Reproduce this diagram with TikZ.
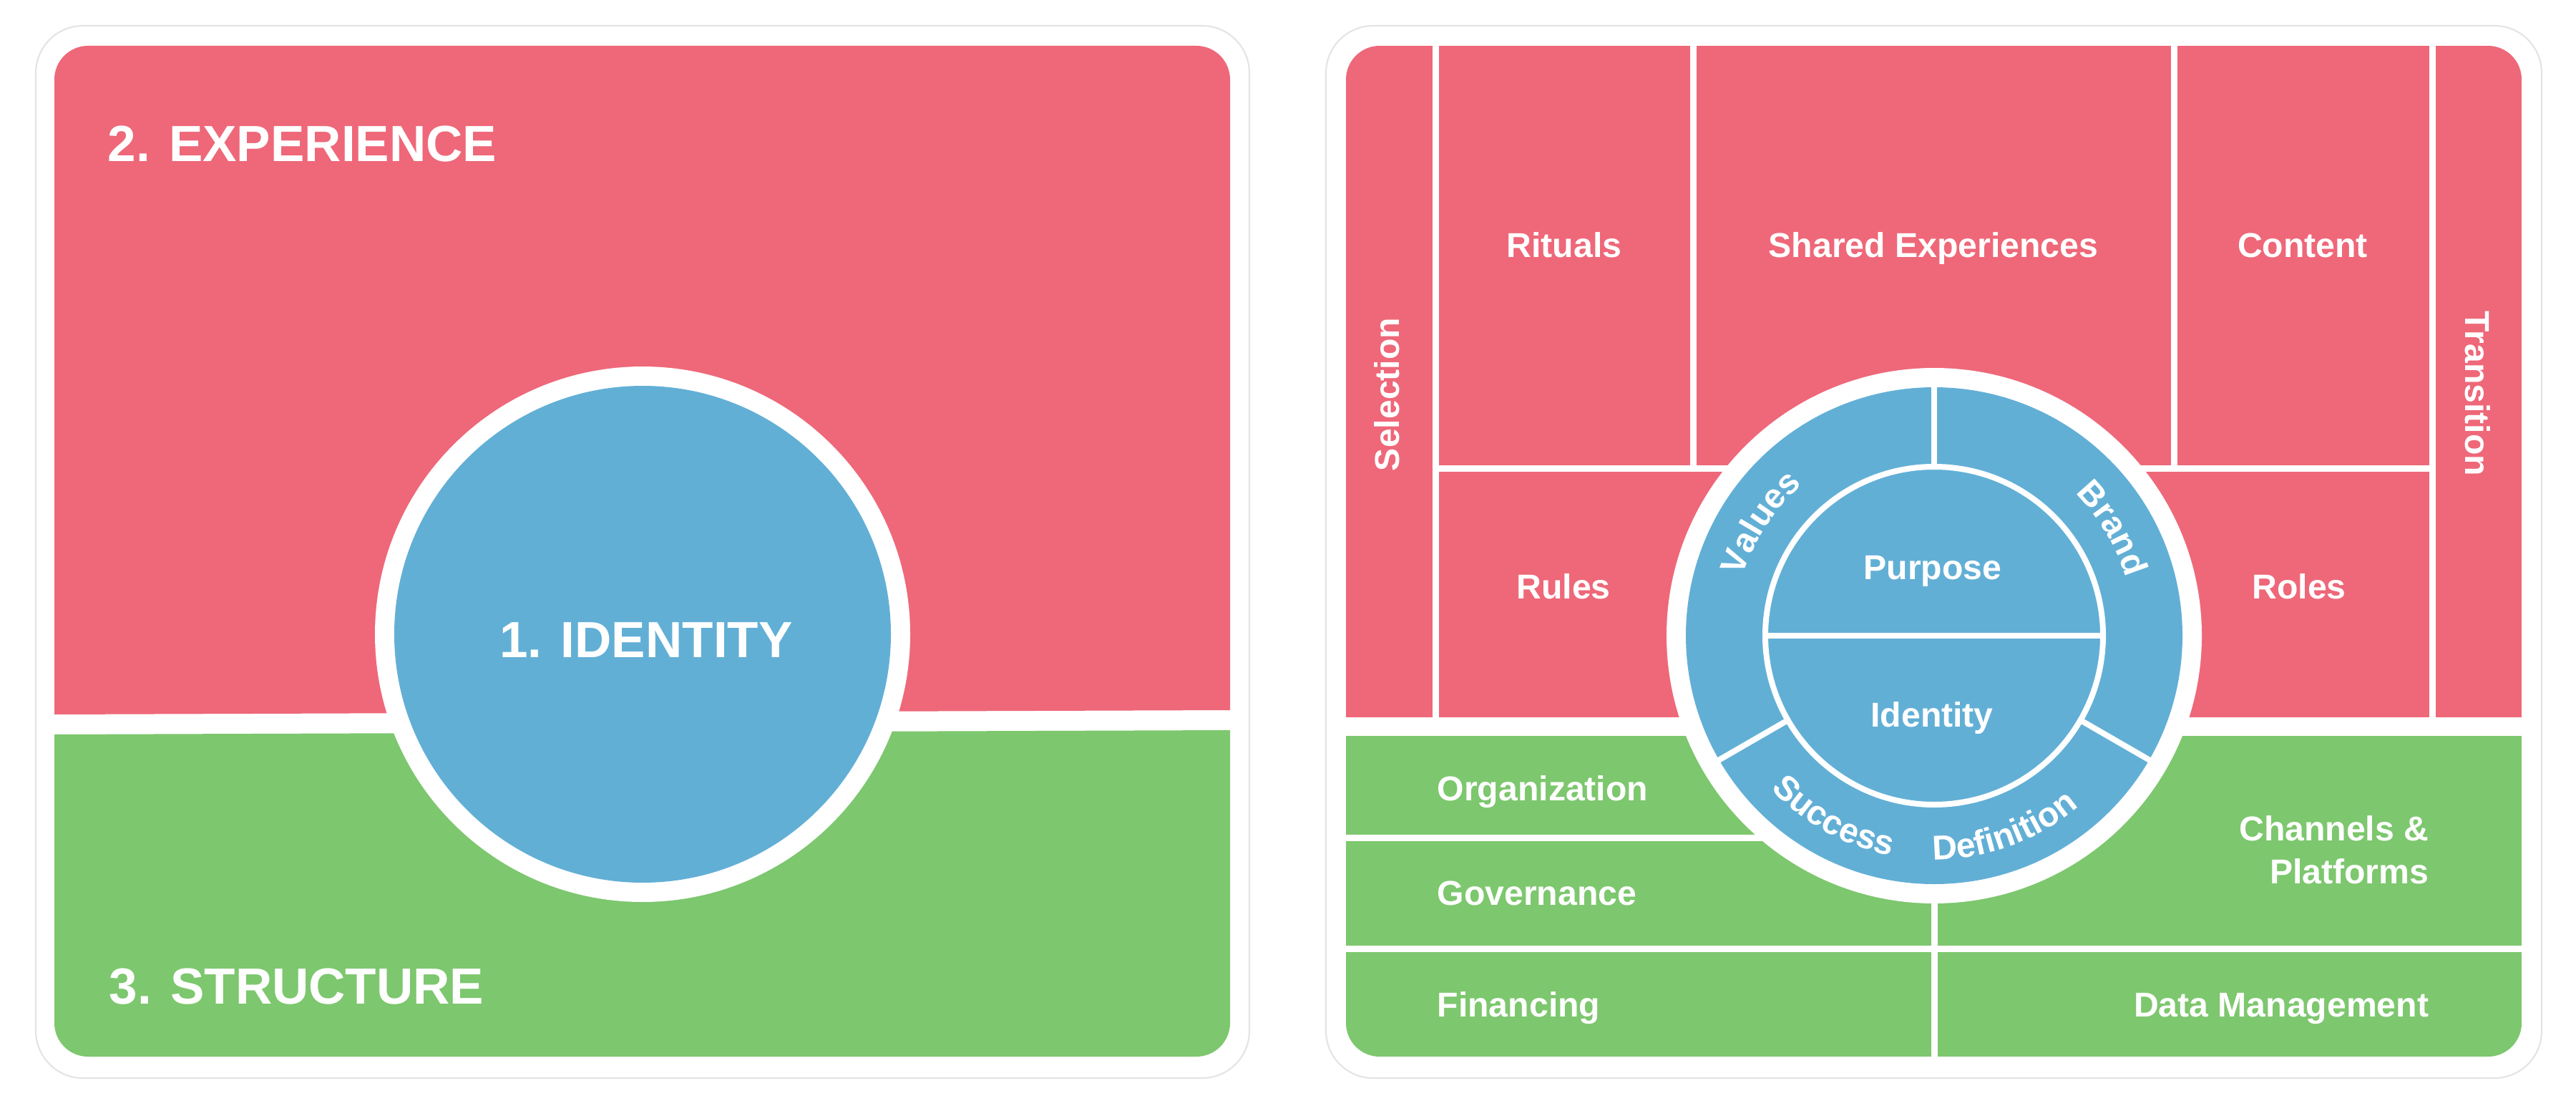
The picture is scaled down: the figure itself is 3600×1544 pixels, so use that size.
\documentclass[tikz,border=0pt]{standalone}
\usepackage{fontspec}
\setmainfont{Liberation Sans}
\usetikzlibrary{decorations.text}
\definecolor{pinkc}{HTML}{EE6879}
\definecolor{bluec}{HTML}{62AFD6}
\definecolor{greenc}{HTML}{7DC76E}
\definecolor{cardline}{HTML}{E4E4E4}
\newcommand\ringfont{\fontsize{13.7}{16}\selectfont\bfseries}
\begin{document}
\begin{tikzpicture}[x=0.01cm,y=0.01cm,
  card/.style={fill=white, draw=cardline, line width=0.6pt, rounded corners=0.66cm},
  sep/.style={draw=white, line width=0.09cm},
  spoke/.style={draw=white, line width=0.08cm},
  lbl/.style={text=white, font=\fontsize{13.7}{17}\selectfont\bfseries, inner sep=0pt},
  big/.style={text=white, font=\fontsize{20.2}{25}\selectfont\bfseries, inner sep=0pt},
  ringtext/.style={decorate, decoration={text along path, text={|\ringfont|#1}, text align=center, text color=white}}]
\useasboundingbox (0,0) rectangle (3600,1544);
\fill[white] (0,0) rectangle (3600,1544);

% ---------- left card ----------
\draw[card] (50,38) rectangle (1746,1508);
\begin{scope}
  \clip[rounded corners=0.47cm] (76,68) rectangle (1719,1480);
  \fill[pinkc] (76,546) -- (1719,552) -- (1719,1480) -- (76,1480) -- cycle;
  \fill[greenc] (76,518) -- (1719,524) -- (1719,68) -- (76,68) -- cycle;
\end{scope}
\fill[white] (898,658) circle[radius=374];
\fill[bluec] (898,658) circle[radius=347];
\node[big, anchor=base west] (exp) at (150,1318) {2. EXPERIENCE};
\node[big, anchor=base west] (struct) at (152,142) {3. STRUCTURE};
\node[big, anchor=base] (ident) at (903,626) {1. IDENTITY};

% ---------- right card ----------
\draw[card] (1853,38) rectangle (3552,1508);
\begin{scope}
  \clip[rounded corners=0.47cm] (1881,68) rectangle (3524,1480);
  \fill[pinkc] (1881,542) rectangle (3524,1480);
  \fill[greenc] (1881,68) rectangle (3524,516);
\end{scope}
% separators, experience area
\draw[sep] (2006,542) -- (2006,1485);
\draw[sep] (3399,542) -- (3399,1485);
\draw[sep] (2366,890) -- (2366,1485);
\draw[sep] (3038,890) -- (3038,1485);
\draw[sep] (2006,890) -- (3399,890);
% separators, structure area
\draw[sep] (1876,374) -- (2703,374);
\draw[sep] (1876,219) -- (3529,219);
\draw[sep] (2703,63) -- (2703,516);

% identity wheel
\fill[white] (2703,656) circle[radius=374];
\fill[bluec] (2703,656) circle[radius=347];
\draw[spoke] (2703,656) circle[radius=236];
\draw[spoke] (2467,656) -- (2939,656);
\foreach \a in {90,210,330}
  \draw[spoke] (2703,656) ++(\a:236) -- ++(\a:112);

\begin{scope}[shift={(2703,656)}]
  \path[ringtext=Values] (202:280) arc[start angle=202, end angle=92, radius=280];
  \path[ringtext=Brand] (86:280) arc[start angle=86, end angle=-24, radius=280];
  \path[ringtext=Success] (211:313) arc[start angle=211, end angle=271, radius=313];
  \path[ringtext=Definition] (260:313) arc[start angle=260, end angle=320, radius=313];
\end{scope}

% labels
\node[lbl, anchor=base] (rituals) at (2186,1185) {Rituals};
\node[lbl, anchor=base] (shared) at (2702,1185) {Shared Experiences};
\node[lbl, anchor=base] (content) at (3218,1185) {Content};
\node[lbl, anchor=base, rotate=90] (selection) at (1955,993) {Selection};
\node[lbl, anchor=base, rotate=-90] (transition) at (3445,994) {Transition};
\node[lbl, anchor=base] (rules) at (2185,708) {Rules};
\node[lbl, anchor=base] (roles) at (3213,708) {Roles};
\node[lbl, anchor=base] (purpose) at (2701,735) {Purpose};
\node[lbl, anchor=base] (identity) at (2700,529) {Identity};
\node[lbl, anchor=base west] (org) at (2008,426) {Organization};
\node[lbl, anchor=base west] (gov) at (2008,280) {Governance};
\node[lbl, anchor=base west] (fin) at (2008,124) {Financing};
\node[lbl, anchor=base east] (data) at (3395,124) {Data Management};
\node[lbl, align=right, anchor=east] (chan) at (3395,357) {Channels \&\\Platforms};
\end{tikzpicture}
\end{document}
